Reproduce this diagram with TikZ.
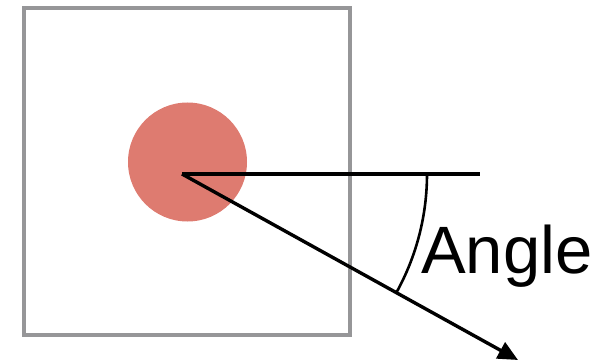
\documentclass[tikz,border=0pt]{standalone}
\usepackage{fontspec}
\setmainfont{Liberation Sans}
\usetikzlibrary{arrows.meta,calc}
\definecolor{dotred}{RGB}{222,123,112}
\definecolor{boxgray}{RGB}{150,150,152}
\tikzset{
  boxline/.style={draw=boxgray,line width=3.4pt},
  dot/.style={circle,fill=dotred,draw=none,minimum size=119pt,inner sep=0pt},
  ray/.style={draw=black,line width=3.4pt},
  arcline/.style={draw=black,line width=2.6pt},
  anglelabel/.style={font=\fontsize{67}{67}\selectfont,inner sep=0pt,anchor=base west}
}
\begin{document}
\begin{tikzpicture}[x=1pt,y=1pt]
\useasboundingbox (0,0) rectangle (613,362);
\draw[boxline] (24,27) rectangle (350,354);
\node[dot] (c) at (187.5,200) {};
\coordinate (O) at (182,188);
\coordinate (H) at (480,188);
\coordinate (T) at (518,2);
\draw[ray] (O) -- (H);
\draw[ray,-{Triangle[length=20pt,width=18pt]}] (O) -- (T);
\draw[arcline] ($(O)+(0:245)$) arc[start angle=0,end angle=-29,radius=245];
\node[anglelabel] (a) at (421,89) {Angle};
\end{tikzpicture}
\end{document}
